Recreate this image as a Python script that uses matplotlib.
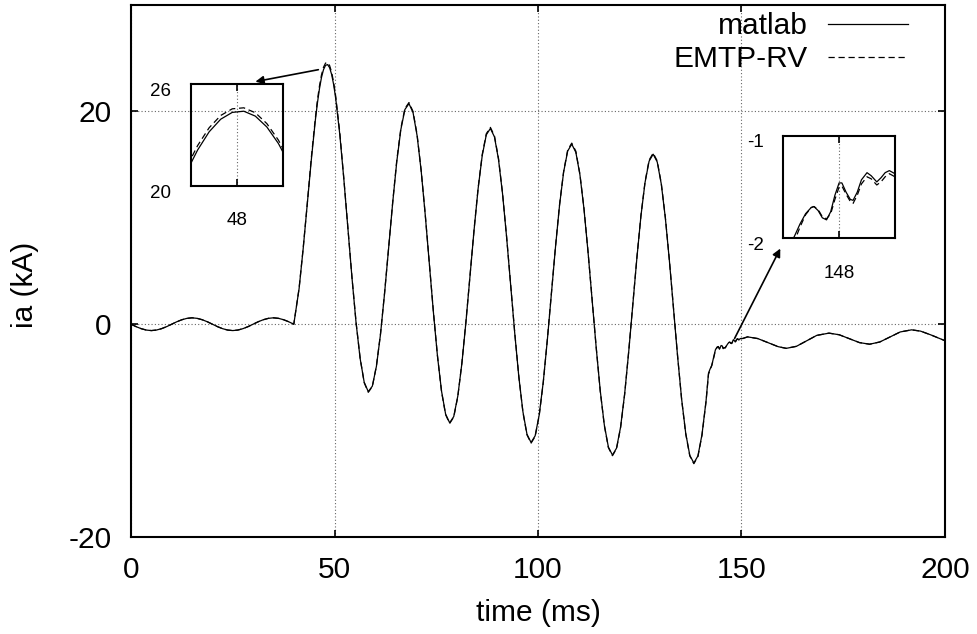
import matplotlib.pyplot as plt
from matplotlib.transforms import ScaledTranslation

plt.rcParams['font.family'] = ['Liberation Sans', 'DejaVu Sans']
plt.rcParams['axes.unicode_minus'] = False

# ---- datos (tiempo en ms, corriente en kA) ----
# antes de la falla
t_pre = [0, 1.25, 2.5, 3.75, 5, 6.25, 7.5, 8.75, 10, 11.25, 12.5, 13.75, 15, 16.25,
         17.5, 18.75, 20, 21.25, 22.5, 23.75, 25, 26.25, 27.5, 28.75, 30, 31.25,
         32.5, 33.75, 35, 36.25, 37.5, 38.75, 40]
ia_pre = [0, -0.23, -0.42, -0.55, -0.6, -0.55, -0.42, -0.23, 0, 0.23, 0.42, 0.55, 0.6,
          0.55, 0.42, 0.23, 0, -0.23, -0.42, -0.55, -0.6, -0.55, -0.42, -0.23, 0, 0.23,
          0.42, 0.55, 0.6, 0.55, 0.42, 0.23, 0]

# durante la falla
t_falla = [41.3, 42.3, 43.3, 44.3, 45.3, 45.8, 46.3, 46.8, 47.3, 47.8, 48.3, 48.8, 49.3,
           49.8, 50.3, 51.3, 52.3, 53.3, 54.3, 55.3, 56.3, 57.3, 58.3, 59.3, 60.3, 61.3,
           62.3, 63.3, 64.3, 65.3, 66.3, 67.3, 68.3, 69.3, 70.3, 71.3, 72.3, 73.3, 74.3,
           75.3, 76.3, 77.3, 78.3, 79.3, 80.3, 81.3, 82.3, 83.3, 84.3, 85.3, 86.3, 87.3,
           88.3, 89.3, 90.3, 91.3, 92.3, 93.3, 94.3, 95.3, 96.3, 97.3, 98.3, 99.3, 100.3,
           101.3, 102.3, 103.3, 104.3, 105.3, 106.3, 107.3, 108.3, 109.3, 110.3, 111.3,
           112.3, 113.3, 114.3, 115.3, 116.3, 117.3, 118.3, 119.3, 120.3, 121.3, 122.3,
           123.3, 124.3, 125.3, 126.3, 127.3, 128.3, 129.3, 130.3, 131.3, 132.3, 133.3,
           134.3, 135.3, 136.3, 137.3, 138.3, 139.3, 140.3, 141.3]
matlab_falla = [3.34, 7.08, 11.25, 15.43, 19.19, 20.78, 22.12, 23.19, 23.93, 24.33, 24.40,
                24.11, 23.47, 22.50, 21.21, 17.83, 13.61, 8.97, 4.34, 0.13, -3.23, -5.46,
                -6.34, -5.82, -3.96, -0.96, 2.88, 7.15, 11.42, 15.27, 18.29, 20.18, 20.73,
                19.89, 17.71, 14.40, 10.26, 5.70, 1.14, -3.00, -6.29, -8.45, -9.27, -8.68,
                -6.75, -3.69, 0.21, 4.54, 8.87, 12.78, 15.85, 17.80, 18.40, 17.61, 15.48,
                12.23, 8.13, 3.62, -0.90, -4.98, -8.23, -10.35, -11.12, -10.49, -8.53,
                -5.42, -1.48, 2.88, 7.24, 11.19, 14.30, 16.28, 16.92, 16.16, 14.06, 10.84,
                6.77, 2.29, -2.19, -6.25, -9.47, -11.55, -12.30, -11.65, -9.66, -6.53,
                -2.56, 1.83, 6.21, 10.18, 13.31, 15.32, 15.98, 15.25, 13.17, 9.97, 5.92,
                1.46, -3.01, -7.05, -10.25, -12.32, -13.05, -12.38, -10.37, -7.20]
emtp_falla = [3.39, 7.13, 11.30, 15.63, 19.39, 21.05, 22.38, 23.43, 24.15, 24.54, 24.60,
              24.31, 23.67, 22.70, 21.42, 18.03, 13.66, 9.02, 4.39, 0.18, -3.18, -5.50,
              -6.40, -5.86, -3.91, -0.91, 2.93, 7.20, 11.47, 15.40, 18.40, 20.28, 20.83,
              19.99, 17.81, 14.45, 10.31, 5.75, 1.19, -2.95, -6.33, -8.50, -9.33, -8.73,
              -6.80, -3.64, 0.26, 4.59, 8.92, 12.83, 15.95, 17.90, 18.50, 17.71, 15.58,
              12.28, 8.18, 3.67, -0.85, -4.93, -8.28, -10.40, -11.18, -10.55, -8.58,
              -5.47, -1.43, 2.93, 7.29, 11.24, 14.35, 16.38, 17.02, 16.26, 14.11, 10.89,
              6.82, 2.34, -2.14, -6.30, -9.52, -11.60, -12.36, -11.70, -9.71, -6.58,
              -2.51, 1.88, 6.26, 10.23, 13.36, 15.42, 16.08, 15.35, 13.22, 10.02, 5.97,
              1.51, -2.96, -7.10, -10.30, -12.38, -13.11, -12.44, -10.43, -7.26]

# despeje de la falla
t_despeje = [141.9, 142.3, 142.7, 143.1, 143.6, 144.0, 144.3, 144.6, 145.0, 145.3, 145.5,
             145.8, 146.0, 146.2, 146.4, 146.6, 146.8, 147.0, 147.1, 147.25, 147.4,
             147.55, 147.7, 147.85, 148.0, 148.1, 148.25, 148.4, 148.5, 148.65, 148.8,
             149.0, 149.15, 149.35, 149.5, 149.65, 149.8, 150.0]
matlab_despeje = [-4.6, -4.2, -3.9, -3.2, -2.4, -2.15, -2.1, -2.35, -2.0, -2.05, -2.3,
                  -2.2, -2.2, -2.08, -1.98, -1.86, -1.76, -1.70, -1.69, -1.73, -1.80,
                  -1.82, -1.74, -1.58, -1.46, -1.46, -1.55, -1.62, -1.63, -1.55, -1.43,
                  -1.36, -1.39, -1.45, -1.41, -1.36, -1.34, -1.37]
emtp_despeje = [-4.7, -4.3, -3.85, -3.3, -2.45, -2.2, -2.1, -2.3, -2.05, -2.1, -2.25,
                -2.22, -2.24, -2.12, -2.03, -1.89, -1.77, -1.70, -1.69, -1.72, -1.79,
                -1.81, -1.76, -1.62, -1.50, -1.49, -1.57, -1.64, -1.66, -1.58, -1.47,
                -1.40, -1.42, -1.48, -1.45, -1.40, -1.37, -1.40]

# despues del despeje
t_post = [151.5, 154.0, 156.5, 159.0, 161.0, 163.5, 166.0, 168.5, 171.5, 174.0, 176.5,
          179.0, 181.5, 184.0, 186.5, 189.0, 191.8, 194.0, 196.5, 199.0, 200.0]
ia_post = [-1.19, -1.35, -1.73, -2.11, -2.27, -2.08, -1.56, -1.05, -0.84, -0.99, -1.36,
           -1.73, -1.88, -1.67, -1.2, -0.73, -0.53, -0.65, -1.0, -1.4, -1.55]

tiempo = t_pre + t_falla + t_despeje + t_post
ia_matlab = ia_pre + matlab_falla + matlab_despeje + ia_post
ia_emtp = ia_pre + emtp_falla + emtp_despeje + ia_post

FS = 21.5
LW = 0.9
DASH = (0, (5, 3))

fig = plt.figure(figsize=(9.77, 6.34), dpi=100)
ax = fig.add_axes([0.1341, 0.1530, 0.8331, 0.8391])
ax.plot(tiempo, ia_matlab, color='k', lw=LW, label='matlab')
ax.plot(tiempo, ia_emtp, color='k', lw=LW, ls=DASH, label='EMTP-RV')
ax.set_xlim(0, 200)
ax.set_ylim(-20, 30)
ax.set_xticks([0, 50, 100, 150, 200])
ax.set_yticks([-20, 0, 20])
ax.grid(True, ls=(0, (1, 2)), color='#666666', lw=0.8)
ax.tick_params(direction='in', top=True, right=True, length=5, width=1.2,
               labelsize=FS, pad=14)
for s in ax.spines.values():
    s.set_linewidth(1.5)
ax.set_xlabel('time (ms)', fontsize=FS, va='center')
ax.set_ylabel('ia (kA)', fontsize=FS, va='center')
ax.xaxis.set_label_coords(0.5, -0.143)
ax.yaxis.set_label_coords(-0.130, 0.474)

ax.legend(loc='upper right', bbox_to_anchor=(0.9545, 0.9865), frameon=False,
          markerfirst=False, fontsize=FS, handlelength=2.68, handletextpad=0.67,
          labelspacing=0.17, borderpad=0, borderaxespad=0)

# flechas hacia los zoom
flecha = dict(arrowstyle='-|>', lw=1.2, color='k', mutation_scale=12)
ax.annotate('', xy=(29.9, 22.75), xytext=(46.7, 23.97), arrowprops=flecha)
ax.annotate('', xy=(159.85, 7.34), xytext=(148.0, -1.57), arrowprops=flecha)

desplazar = ScaledTranslation(0, -0.05, fig.dpi_scale_trans)


def zoom(pos, xlim, ylim, xt, yt):
    ins = fig.add_axes(pos, facecolor='none')
    ins.plot(tiempo, ia_matlab, color='k', lw=LW)
    ins.plot(tiempo, ia_emtp, color='k', lw=LW, ls=DASH)
    ins.set_xlim(*xlim)
    ins.set_ylim(*ylim)
    ins.set_xticks(xt)
    ins.set_yticks(yt)
    ins.grid(True, axis='x', ls=(0, (1, 2)), color='#666666', lw=0.8)
    ins.tick_params(axis='x', direction='in', top=True, length=5, width=1.2,
                    labelsize=13.5, pad=19)
    ins.tick_params(axis='y', direction='in', length=0, labelsize=13.5, pad=14)
    for s in ins.spines.values():
        s.set_linewidth(1.5)
    for lab in ins.get_yticklabels():
        lab.set_transform(lab.get_transform() + desplazar)
    return ins


zoom([0.1952, 0.7066, 0.0945, 0.1609], (46, 50), (20, 26), [48], [20, 26])
zoom([0.8017, 0.6241, 0.1143, 0.1618], (146, 150), (-2, -1), [148], [-2, -1])

fig.savefig('out.png', dpi=100)
